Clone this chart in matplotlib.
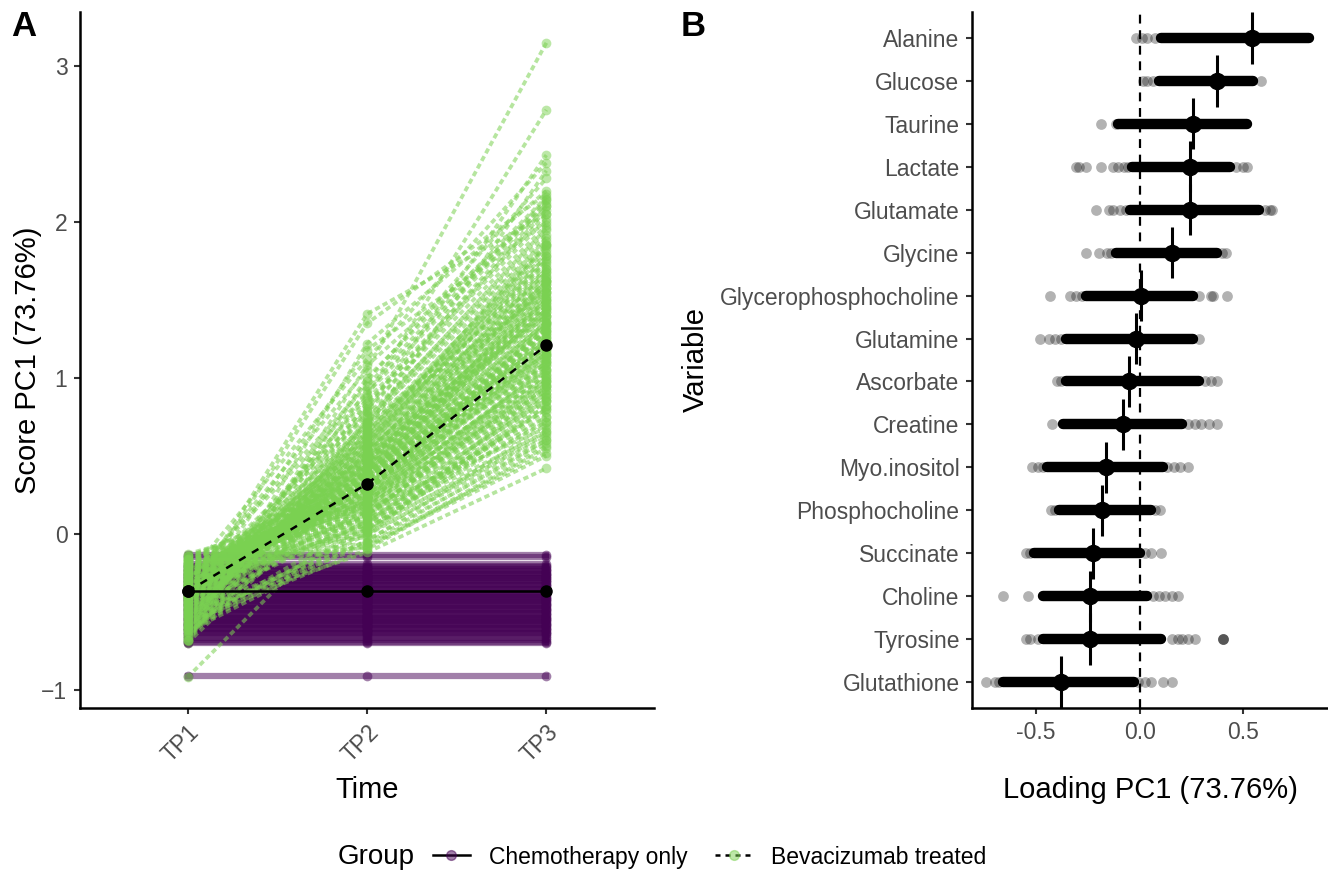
import numpy as np
import matplotlib
matplotlib.use("Agg")
import matplotlib.pyplot as plt
from matplotlib.lines import Line2D

plt.rcParams['font.family'] = ['Liberation Sans', 'DejaVu Sans']

# ---- panel A: PC1 scores per subject over time ----
timepoints = ["TP1", "TP2", "TP3"]

# chemotherapy-only subjects keep a constant score
chemo_score = [-0.138, -0.152, -0.197, -0.205, -0.213, -0.224, -0.231, -0.238, -0.249, -0.256,
               -0.263, -0.272, -0.281, -0.287, -0.296, -0.305, -0.311, -0.322, -0.329, -0.336,
               -0.347, -0.353, -0.361, -0.372, -0.378, -0.386, -0.395, -0.404, -0.409, -0.418,
               -0.427, -0.433, -0.442, -0.451, -0.458, -0.466, -0.474, -0.483, -0.489, -0.497,
               -0.506, -0.514, -0.521, -0.532, -0.538, -0.547, -0.555, -0.561, -0.572, -0.579,
               -0.586, -0.594, -0.603, -0.611, -0.619, -0.628, -0.636, -0.642, -0.655, -0.668,
               -0.681, -0.694, -0.703, -0.915]

bev_tp1 = [-0.15, -0.42, -0.28, -0.61, -0.35, -0.22, -0.50, -0.38, -0.66, -0.31,
           -0.19, -0.45, -0.27, -0.57, -0.40, -0.24, -0.53, -0.33, -0.69, -0.36,
           -0.17, -0.47, -0.30, -0.59, -0.43, -0.21, -0.55, -0.37, -0.64, -0.29,
           -0.13, -0.41, -0.26, -0.62, -0.34, -0.23, -0.49, -0.39, -0.70, -0.32,
           -0.18, -0.44, -0.25, -0.58, -0.46, -0.20, -0.52, -0.36, -0.67, -0.30,
           -0.16, -0.43, -0.29, -0.60, -0.38, -0.22, -0.51, -0.35, -0.65, -0.27,
           -0.14, -0.48, -0.31, -0.56, -0.41, -0.24, -0.54, -0.33, -0.68, -0.37,
           -0.19, -0.40, -0.26, -0.63, -0.36, -0.21, -0.50, -0.39, -0.62, -0.28,
           -0.17, -0.46, -0.32, -0.57, -0.42, -0.23, -0.53, -0.34, -0.66, -0.30,
           -0.92, -0.45, -0.25, -0.59, -0.39, -0.20, -0.48, -0.37, -0.61, -0.33,
           -0.26, -0.49, -0.33, -0.58, -0.21, -0.44, -0.37, -0.63, -0.16, -0.52,
           -0.29, -0.40, -0.68, -0.24, -0.47, -0.35, -0.55, -0.19, -0.42, -0.31,
           -0.60, -0.27, -0.50, -0.38, -0.14, -0.45, -0.34, -0.57, -0.23, -0.41,
           -0.65, -0.30, -0.48, -0.36, -0.18, -0.53, -0.28, -0.43, -0.62, -0.25,
           -0.39, -0.51, -0.20, -0.46, -0.33, -0.56, -0.29, -0.40, -0.69, -0.22,
           -0.44, -0.35, -0.54, -0.17, -0.47, -0.32, -0.59, -0.26, -0.41, -0.37]
bev_tp2 = [0.32, 0.15, 0.48, 0.05, 0.61, 0.27, -0.05, 0.40, 0.72, 0.21,
           0.10, 0.55, 0.34, -0.10, 0.86, 0.18, 0.44, 0.02, 0.66, 0.29,
           0.38, 0.08, 0.95, 0.24, 0.51, -0.02, 0.70, 0.13, 0.36, 0.58,
           0.20, 1.41, 0.45, 0.00, 0.79, 0.30, 0.12, 0.63, 0.41, 1.05,
           0.26, 0.53, -0.08, 0.35, 0.88, 0.17, 0.47, 0.06, 0.74, 0.31,
           0.22, 1.35, 0.39, 0.09, 0.57, 0.28, -0.12, 0.68, 0.43, 1.12,
           0.19, 0.50, 0.04, 0.37, 0.82, 0.14, 0.46, 0.25, 1.22, 0.33,
           0.11, 0.60, 0.42, -0.04, 0.76, 0.23, 0.52, 0.07, 0.98, 0.35,
           0.16, 1.18, 0.44, 0.01, 0.65, 0.29, -0.07, 0.55, 0.39, 0.90,
           0.23, 0.27, 0.49, 0.03, 0.71, 0.20, 0.37, 0.12, 0.58, 0.31,
           0.28, 0.41, 0.09, 0.63, 0.19, 0.47, 0.33, 0.84, 0.02, 0.54,
           0.24, 0.38, 0.71, 0.14, 0.49, 0.30, 0.60, -0.06, 0.43, 0.26,
           0.78, 0.17, 0.52, 0.35, 0.05, 0.45, 0.21, 0.67, 0.31, 0.40,
           0.92, 0.12, 0.56, 0.27, -0.09, 0.62, 0.34, 0.48, 1.00, 0.18,
           0.37, 0.58, 0.08, 0.46, 0.25, 0.73, 0.32, 0.42, 1.08, 0.15,
           0.50, 0.29, 0.65, -0.01, 0.53, 0.36, 0.80, 0.22, 0.44, 0.39]
bev_tp3 = [1.25, 0.95, 1.50, 0.80, 1.62, 1.30, 0.70, 1.15, 1.85, 1.05,
           1.10, 1.40, 1.60, 0.55, 2.05, 0.90, 1.35, 0.85, 1.75, 1.00,
           1.45, 0.65, 2.15, 1.20, 1.70, 0.95, 1.55, 0.75, 1.28, 1.90,
           1.18, 2.05, 1.62, 0.60, 2.43, 1.08, 0.98, 1.80, 1.22, 3.15,
           1.35, 1.58, 0.50, 1.12, 2.72, 1.02, 1.40, 0.88, 1.95, 1.16,
           0.92, 2.18, 1.52, 0.72, 1.68, 1.22, 0.42, 2.33, 1.30, 2.38,
           1.08, 1.48, 0.62, 1.38, 2.10, 0.85, 1.55, 0.98, 2.20, 1.26,
           0.78, 1.72, 1.44, 0.58, 1.88, 1.14, 1.62, 0.90, 2.28, 1.32,
           0.68, 2.00, 1.46, 0.82, 1.78, 1.10, 0.52, 1.85, 1.20, 2.12,
           1.05, 1.34, 1.42, 0.75, 1.65, 0.96, 1.50, 1.00, 1.58, 1.24,
           1.18, 1.42, 0.82, 1.70, 1.02, 1.55, 1.28, 2.02, 0.66, 1.66,
           1.12, 1.36, 1.92, 0.92, 1.58, 1.20, 1.74, 0.60, 1.48, 1.15,
           2.08, 0.98, 1.64, 1.30, 0.72, 1.52, 1.06, 1.82, 1.24, 1.40,
           2.14, 0.86, 1.76, 1.16, 0.56, 1.86, 1.32, 1.60, 2.16, 0.94,
           1.34, 1.78, 0.80, 1.50, 1.10, 1.96, 1.26, 1.46, 2.10, 0.88,
           1.62, 1.22, 1.84, 0.64, 1.68, 1.36, 1.98, 1.04, 1.54, 1.44]

chemo_mean = [-0.37, -0.37, -0.37]
bev_mean = [-0.37, 0.32, 1.21]

# ---- panel B: bootstrapped PC1 loadings ----
variables = ["Alanine", "Glucose", "Taurine", "Lactate", "Glutamate", "Glycine",
             "Glycerophosphocholine", "Glutamine", "Ascorbate", "Creatine",
             "Myo.inositol", "Phosphocholine", "Succinate", "Choline", "Tyrosine",
             "Glutathione"]
loading_mean = [0.542, 0.371, 0.259, 0.241, 0.241, 0.155, 0.008, -0.018, -0.050, -0.080,
                -0.161, -0.183, -0.227, -0.241, -0.241, -0.381]
# range covered by the bulk of the bootstrap loadings
dense_lo = [0.104, 0.094, -0.106, -0.036, -0.046, -0.116, -0.257, -0.357, -0.357, -0.367,
            -0.448, -0.387, -0.508, -0.468, -0.468, -0.658]
dense_hi = [0.817, 0.546, 0.516, 0.436, 0.576, 0.375, 0.255, 0.255, 0.285, 0.205,
            0.114, 0.054, 0.004, 0.034, 0.104, -0.026]
# isolated bootstrap loadings outside the bulk
sparse = [
    [-0.016, 0.010, 0.034, 0.074],
    [0.014, 0.034, 0.064, 0.586],
    [-0.187, -0.116],
    [-0.307, -0.290, -0.257, -0.187, -0.126, -0.106, -0.076, -0.056, 0.466, 0.496, 0.516],
    [-0.211, -0.147, -0.126, -0.096, -0.066, 0.606, 0.630, 0.636],
    [-0.257, -0.197, -0.157, -0.137, 0.395, 0.415],
    [-0.434, -0.337, -0.307, -0.277, 0.285, 0.345, 0.352, 0.420],
    [-0.478, -0.438, -0.407, -0.377, 0.285],
    [-0.397, -0.377, 0.315, 0.345, 0.375],
    [-0.421, 0.235, 0.265, 0.295, 0.335, 0.375],
    [-0.518, -0.488, -0.468, 0.134, 0.165, 0.195, 0.235],
    [-0.428, -0.408, 0.074, 0.100],
    [-0.548, -0.528, 0.024, 0.054, 0.104],
    [-0.658, -0.538, 0.064, 0.094, 0.124, 0.155, 0.185],
    [-0.548, -0.528, -0.488, 0.155, 0.185, 0.205, 0.235, 0.265, 0.400, 0.401, 0.402],
    [-0.739, -0.699, -0.678, -0.006, 0.024, 0.054, 0.114, 0.155],
]

purple = "#440154"
green = "#7AD151"
tick_col = "#4D4D4D"

fig = plt.figure(figsize=(13.28, 8.72), dpi=100)
axA = fig.add_axes([80 / 1328, 164 / 872, 574 / 1328, 696 / 872])
axB = fig.add_axes([972 / 1328, 164 / 872, 356 / 1328, 696 / 872])

xs = np.arange(1, 4)
chemo_rows = [[s, s, s] for s in chemo_score]
bev_rows = [list(r) for r in zip(bev_tp1, bev_tp2, bev_tp3)]

# subject trajectories
for row in chemo_rows:
    axA.plot(xs, row, color=purple, alpha=0.5, lw=4.5, zorder=2)
for row in bev_rows:
    axA.plot(xs, row, color=green, alpha=0.55, lw=2.7, dashes=(1.4, 0.9), zorder=3)

# points, both groups interleaved so the overlap at TP1 mixes
for i in range(max(len(chemo_rows), len(bev_rows))):
    if i < len(chemo_rows):
        axA.plot(xs, chemo_rows[i], ls="none", marker="o", ms=7, mew=0,
                 color=purple, alpha=0.5, zorder=4)
    if i < len(bev_rows):
        axA.plot(xs, bev_rows[i], ls="none", marker="o", ms=7, mew=0,
                 color=green, alpha=0.5, zorder=4)

# group means
axA.plot(xs, chemo_mean, color="black", lw=1.8, marker="o", ms=8, zorder=6)
axA.plot(xs, bev_mean, color="black", lw=1.8, dashes=(3, 3), marker="o", ms=8, zorder=6)

axA.set_xlim(0.4, 3.6)
axA.set_ylim(-1.118, 3.348)
axA.set_xticks(xs)
axA.set_xticklabels(timepoints, rotation=45, ha="right", va="top", rotation_mode="anchor")
axA.set_yticks([-1, 0, 1, 2, 3])
axA.set_xlabel("Time", fontsize=21)
axA.set_ylabel("Score PC1 (73.76%)", fontsize=21)
axA.xaxis.set_label_coords(0.5, -0.097)
axA.yaxis.set_label_coords(-0.066, 0.5)

# loadings
ypos = np.arange(len(variables))[::-1]
for y, lo, hi, pts in zip(ypos, dense_lo, dense_hi, sparse):
    axB.scatter(pts, [y] * len(pts), s=60, color="black", alpha=0.3, lw=0, zorder=2)
    axB.plot([lo, hi], [y, y], color="black", lw=7.5, solid_capstyle="round", zorder=3)
axB.axvline(0, color="black", lw=1.6, dashes=(4, 3), zorder=4)
axB.vlines(loading_mean, ypos - 0.6, ypos + 0.6, color="black", lw=2.2, zorder=5)
axB.plot(loading_mean, ypos, ls="none", marker="o", ms=11.5, color="black", zorder=6)

axB.set_xlim(-0.808, 0.908)
axB.set_ylim(-0.6, len(variables) - 0.4)
axB.set_yticks(ypos)
axB.set_yticklabels(variables)
axB.set_xticks([-0.5, 0.0, 0.5])
axB.set_xticklabels(["-0.5", "0.0", "0.5"])
axB.set_xlabel("Loading PC1 (73.76%)", fontsize=21)
axB.set_ylabel("Variable", fontsize=21)
axB.xaxis.set_label_coords(0.5, -0.097)
axB.yaxis.set_label_coords(-0.736, 0.5)

for ax in (axA, axB):
    for side in ("top", "right"):
        ax.spines[side].set_visible(False)
    for side in ("left", "bottom"):
        ax.spines[side].set_linewidth(1.8)
    ax.tick_params(width=1.5, length=4, color="#333333", labelsize=16.5,
                   labelcolor=tick_col, pad=5)

fig.text(11 / 1328, 1 - 27 / 872, "A", fontsize=25, fontweight="bold", va="center")
fig.text(681 / 1328, 1 - 27 / 872, "B", fontsize=25, fontweight="bold", va="center")

# legend along the bottom
handles = [
    Line2D([], [], color="black", lw=1.8, marker="o", ms=7,
           markerfacecolor=(0.267, 0.004, 0.329, 0.5), markeredgecolor=(0.267, 0.004, 0.329, 0.5)),
    Line2D([], [], color="black", lw=1.8, dashes=(2, 2), marker="o", ms=7,
           markerfacecolor=(0.478, 0.82, 0.318, 0.5), markeredgecolor=(0.478, 0.82, 0.318, 0.5)),
]
fig.text(338 / 1328, 1 - 857 / 872, "Group", fontsize=20, va="center")
fig.legend(handles, ["Chemotherapy only", "Bevacizumab treated"], loc="center left",
           bbox_to_anchor=(433 / 1328, 1 - 857 / 872), ncol=2, frameon=False, fontsize=16.5,
           handlelength=1.6, handletextpad=0.85, columnspacing=1.2, borderpad=0, borderaxespad=0)

fig.savefig("out.png", dpi=100)
